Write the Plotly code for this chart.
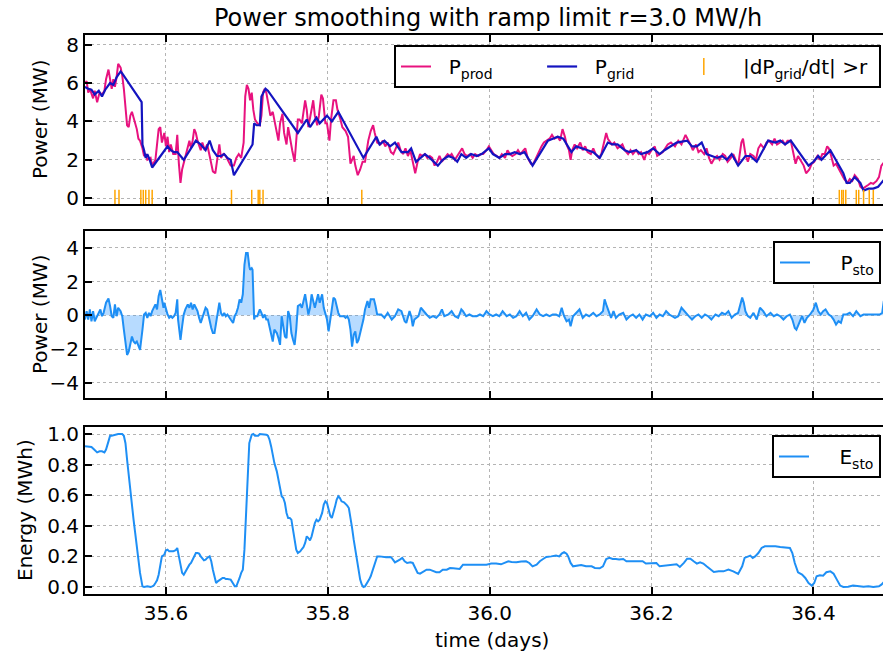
import plotly.graph_objects as go

# ---- production power (MW) ----
t_prod = [35.500,35.502,35.504,35.506,35.510,35.512,35.515,35.518,35.521,35.524,35.526,35.529,35.531,35.533,35.535,35.537,35.539,35.541,35.544,35.546,35.548,35.550,35.552,35.554,35.556,35.558,35.560,35.562,35.564,35.566,35.568,35.571,35.573,35.575,35.577,35.581,35.583,35.587,35.589,35.591,35.593,35.595,35.598,35.600,35.602,35.604,35.606,35.609,35.612,35.614,35.616,35.618,35.620,35.622,35.626,35.629,35.631,35.633,35.635,35.637,35.639,35.643,35.645,35.648,35.651,35.655,35.658,35.661,35.663,35.666,35.668,35.671,35.674,35.677,35.680,35.684,35.687,35.690,35.693,35.696,35.698,35.700,35.702,35.704,35.706,35.708,35.710,35.713,35.716,35.718,35.720,35.722,35.724,35.727,35.729,35.732,35.734,35.737,35.739,35.741,35.744,35.746,35.749,35.751,35.754,35.756,35.759,35.761,35.763,35.765,35.768,35.772,35.774,35.776,35.779,35.782,35.784,35.787,35.789,35.792,35.794,35.797,35.799,35.802,35.804,35.807,35.810,35.812,35.815,35.818,35.822,35.825,35.828,35.830,35.832,35.834,35.837,35.840,35.843,35.846,35.850,35.853,35.856,35.858,35.861,
          35.865,35.868,35.871,35.874,35.878,35.881,35.884,35.887,35.890,35.893,35.896,35.899,35.902,35.905,35.908,35.911,35.914,35.916,35.920,35.923,35.926,35.929,35.932,35.935,35.938,35.941,35.944,35.948,35.951,35.953,35.957,35.960,35.963,35.966,35.969,35.972,35.976,35.979,35.982,35.986,35.989,35.992,35.996,35.999,36.002,36.005,36.009,36.012,36.015,36.019,36.022,36.025,36.028,36.032,36.035,36.038,36.042,36.044,36.047,36.051,36.054,36.057,36.060,36.064,36.067,36.070,36.074,36.077,36.080,36.084,36.087,36.090,36.093,36.095,36.098,36.100,36.102,36.105,36.108,36.112,36.115,36.118,36.121,36.125,36.128,36.131,36.135,36.138,36.141,36.144,36.146,36.149,36.151,36.154,36.158,36.161,36.164,36.167,36.171,36.174,36.177,36.181,36.184,36.187,36.191,36.194,36.197,36.200,36.204,36.207,36.210,36.214,36.217,36.220,36.224,
          36.229,36.233,36.237,36.242,36.245,36.248,36.251,36.255,36.258,36.261,36.265,36.268,36.271,36.274,36.278,36.281,36.284,36.288,36.291,36.294,36.298,36.301,36.304,36.307,36.311,36.313,36.316,36.319,36.322,36.326,36.329,36.332,36.335,36.339,36.342,36.345,36.349,36.352,36.355,36.358,36.362,36.365,36.368,36.372,36.375,36.378,36.381,36.385,36.388,36.391,36.395,36.398,36.401,36.405,36.408,36.411,36.414,36.417,36.419,36.422,36.425,36.428,36.432,36.435,36.438,36.442,36.445,36.448,36.451,36.455,36.458,36.461,36.465,36.468,36.471,36.474,36.478,36.481,36.484,36.488]
p_prod = [6.0,6.1,5.5,5.7,5.2,5.6,5.0,5.5,5.4,5.6,6.2,6.7,6.2,5.7,6.2,5.8,6.3,7.0,6.8,6.4,5.7,4.6,3.8,3.7,4.3,4.5,4.2,3.9,3.6,3.1,3.0,2.6,2.2,2.3,2.0,2.1,1.7,2.0,2.7,3.6,3.7,2.9,3.4,2.7,3.2,2.4,2.8,2.3,2.3,3.3,1.8,0.8,1.5,1.8,2.5,3.0,2.6,3.0,3.6,3.4,3.0,2.5,2.9,2.5,2.8,2.0,1.4,1.3,1.9,2.8,2.1,2.3,2.2,1.9,1.7,1.7,2.1,2.3,2.1,2.9,5.3,5.9,5.7,5.1,5.5,4.6,4.1,3.9,3.8,4.3,5.5,5.7,5.5,4.8,4.3,4.5,4.1,3.4,3.0,3.9,4.4,3.4,2.8,3.7,2.9,2.5,1.9,2.9,4.1,4.1,3.9,5.1,4.6,3.7,4.4,5.1,4.3,3.8,4.3,5.4,5.2,3.9,3.9,3.0,4.1,5.1,5.1,4.6,4.2,3.7,3.5,3.2,1.8,2.0,2.2,1.7,1.2,1.5,1.9,1.9,3.0,3.5,3.8,3.4,2.9,
          2.8,3.0,2.7,2.9,2.4,2.3,2.6,2.9,2.5,2.3,2.6,2.2,2.5,1.9,1.3,1.9,2.3,2.2,2.3,2.1,2.2,2.1,1.7,1.9,2.2,1.9,2.1,2.3,2.2,2.3,2.0,2.2,2.4,2.6,2.3,2.2,2.3,2.1,2.3,2.2,2.3,2.3,2.5,2.7,2.5,2.3,2.2,2.1,2.3,2.1,2.5,2.3,2.2,2.3,2.5,2.3,2.5,2.6,2.1,1.8,1.8,2.1,2.4,2.7,2.9,3.0,3.1,3.3,3.1,3.2,3.0,3.6,3.2,2.8,2.5,2.0,2.5,2.8,2.6,2.9,2.5,2.7,2.4,2.3,2.6,2.3,2.1,2.3,2.9,3.4,3.1,2.9,2.8,2.9,2.6,2.7,2.8,2.5,2.3,2.5,2.3,2.5,2.3,2.4,2.0,2.4,2.3,2.5,2.7,2.2,2.3,2.4,2.6,2.8,2.9,
          2.7,3.0,2.8,3.3,3.0,2.8,2.5,2.8,2.4,2.5,2.3,2.6,2.1,1.8,2.1,2.2,2.0,2.3,2.2,1.9,2.1,2.3,2.0,1.7,2.9,3.1,2.3,1.9,2.3,2.2,2.0,2.6,2.8,2.6,2.9,3.0,2.8,3.1,2.8,2.9,3.0,2.8,3.0,3.0,2.3,1.8,2.2,1.9,1.7,1.3,1.5,1.8,1.9,2.2,2.0,2.3,2.3,2.7,2.6,2.2,1.7,1.8,1.5,1.3,1.0,0.8,1.0,0.9,1.2,1.0,0.6,0.5,0.6,0.7,0.8,0.75,0.9,1.1,1.7,1.9]

# ---- ramp-limited grid power (MW) ----
t_grid = [35.500,35.504,35.508,35.512,35.517,35.521,35.525,35.531,35.535,35.539,35.544,35.546,35.570,35.571,35.573,35.575,35.577,35.580,35.583,35.602,35.606,35.610,35.614,35.622,35.637,35.643,35.649,35.654,35.658,35.663,35.668,35.672,35.676,35.680,35.684,35.707,35.709,35.712,35.716,35.718,35.723,35.726,35.763,35.774,35.778,35.786,35.790,35.799,35.805,35.813,35.844,35.855,35.860,35.864,35.870,35.877,35.883,35.891,35.899,35.903,35.909,35.920,35.926,35.936,35.942,35.949,35.955,35.960,35.965,35.971,35.977,35.984,35.990,35.999,36.004,36.012,36.019,36.025,36.031,36.037,36.043,36.053,36.072,36.078,36.084,36.091,36.101,36.107,36.113,36.121,36.128,36.136,36.146,36.152,36.158,36.167,36.173,36.181,36.187,36.195,36.202,36.210,36.216,36.231,36.244,36.250,36.256,36.262,36.268,36.274,36.281,36.287,36.293,36.299,36.307,36.316,36.322,36.330,36.344,36.353,36.359,36.365,36.372,36.394,36.400,36.406,36.410,36.421,36.437,36.441,36.445,36.451,36.458,36.462,36.468,36.474,36.480,36.484,36.488]
p_grid = [5.8,5.7,5.65,5.4,5.6,5.3,5.65,6.0,5.9,6.3,6.6,6.5,5.0,2.8,2.5,2.1,2.3,2.0,1.6,2.7,2.5,2.4,2.4,2.0,3.0,2.8,2.5,3.0,2.5,2.2,2.2,2.3,2.1,2.0,1.2,2.8,3.9,3.8,3.8,5.3,5.7,5.6,3.4,4.1,3.7,4.2,3.9,4.3,4.0,4.5,2.1,2.9,3.2,2.8,3.0,2.7,2.9,2.4,2.4,2.6,1.9,2.3,2.1,1.7,2.0,2.2,2.1,1.9,2.3,2.1,2.3,2.2,2.3,2.6,2.3,2.1,2.3,2.3,2.4,2.3,2.4,1.7,3.0,3.1,3.2,3.1,2.4,2.7,2.6,2.5,2.4,2.1,2.9,2.8,2.8,2.5,2.4,2.5,2.3,2.4,2.6,2.3,2.5,2.9,3.0,2.7,2.7,2.9,2.3,2.2,2.1,2.2,2.0,2.3,1.7,2.2,2.2,1.9,3.0,2.9,3.0,2.8,3.0,1.7,1.9,2.2,2.0,2.5,1.3,0.8,0.8,1.1,0.8,0.4,0.5,0.5,0.6,0.8,1.0]

# ---- instants where |dPgrid/dt| exceeds the ramp limit ----
t_flag = [35.537,35.542,35.569,35.572,35.575,35.579,35.583,35.681,35.706,35.714,35.716,35.720,35.842,36.432,36.435,36.437,36.440,36.453,36.456,36.462,36.469,36.474]

# ---- storage power (MW) ----
t_sto = [35.500,35.502,35.504,35.506,35.508,35.510,35.512,35.515,35.517,35.519,35.521,35.523,35.526,35.529,35.531,35.533,35.535,35.537,35.539,35.541,35.544,35.546,35.548,35.550,35.552,35.554,35.556,35.558,35.560,35.562,35.564,35.566,35.568,35.571,35.573,35.575,35.577,35.579,35.581,35.583,35.585,35.587,35.589,35.591,35.593,35.595,35.597,35.598,35.600,35.602,35.604,35.606,35.608,35.610,35.612,35.614,35.615,35.617,35.618,35.620,35.622,35.624,35.627,35.629,35.631,35.633,35.635,35.637,35.639,35.641,35.643,35.645,35.647,35.649,35.651,35.654,35.656,35.658,35.660,35.662,35.664,35.666,35.668,35.670,35.672,35.674,35.676,35.678,35.680,35.683,35.685,35.687,35.689,35.691,35.693,35.695,35.697,35.699,35.701,35.703,35.704,35.706,35.707,35.709,35.710,35.713,35.716,35.718,35.720,35.722,35.724,35.726,35.728,35.730,35.732,35.734,35.737,35.739,35.741,35.743,35.745,35.747,35.749,35.751,35.753,35.755,35.757,35.759,35.761,35.763,35.766,35.768,35.770,35.772,35.774,35.776,35.778,35.780,35.782,35.784,35.786,35.788,35.790,35.793,35.795,35.797,35.799,35.801,35.803,35.805,35.807,35.809,35.811,35.813,35.815,35.817,35.820,35.822,35.824,35.826,35.828,35.830,35.832,35.834,35.836,35.838,35.840,35.842,35.844,35.846,35.849,35.851,35.853,35.855,35.857,35.859,35.861,
         35.866,35.870,35.874,35.879,35.883,35.887,35.891,35.895,35.897,35.901,35.903,35.905,35.907,35.912,35.915,35.918,35.922,35.926,35.930,35.934,35.938,35.941,35.944,35.949,35.953,35.957,35.961,35.965,35.967,35.971,35.975,35.979,35.984,35.988,35.992,35.996,36.000,36.004,36.008,36.012,36.016,36.021,36.025,36.029,36.033,36.037,36.041,36.045,36.049,36.053,36.058,36.062,36.066,36.070,36.074,36.078,36.082,36.086,36.089,36.092,36.095,36.098,36.100,36.103,36.107,36.111,36.115,36.119,36.123,36.128,36.132,36.136,36.140,36.142,36.144,36.147,36.150,36.153,36.156,36.160,36.165,36.169,36.173,36.177,36.181,36.185,36.189,36.193,36.198,36.202,36.206,36.210,36.214,36.218,36.222,
         36.229,36.233,36.237,36.242,36.246,36.250,36.254,36.258,36.262,36.266,36.270,36.274,36.279,36.283,36.287,36.291,36.295,36.299,36.303,36.307,36.312,36.314,36.316,36.319,36.322,36.326,36.330,36.334,36.338,36.342,36.347,36.351,36.355,36.359,36.363,36.367,36.371,36.374,36.377,36.379,36.382,36.386,36.389,36.392,36.396,36.400,36.403,36.406,36.409,36.412,36.415,36.419,36.422,36.425,36.428,36.431,36.434,36.437,36.441,36.445,36.449,36.453,36.458,36.462,36.466,36.470,36.474,36.478,36.482,36.485,36.487,36.488]
p_sto = [-0.25,0.25,-0.25,0.35,-0.35,0.25,-0.35,-0.05,0.15,0.35,-0.05,0.15,0.75,1.0,0.55,-0.05,-0.15,0.65,-0.05,0.45,0.25,-0.05,-0.85,-1.65,-2.35,-2.15,-1.65,-1.25,-1.55,-1.65,-1.55,-1.85,-2.05,-0.85,0.05,0.15,-0.15,0.15,-0.05,0.25,0.45,0.65,0.35,1.15,1.5,0.95,0.45,0.75,0.35,0.05,-0.15,-0.05,-0.15,-0.05,0.15,0.95,-0.25,-1.15,-1.45,-0.65,0.05,0.35,0.65,0.45,0.75,0.35,0.65,0.45,0.25,-0.15,-0.45,-0.15,0.15,0.45,0.35,-0.35,-0.75,-1.05,-1.05,-0.45,0.15,0.75,0.15,-0.05,0.15,-0.05,0.05,-0.15,-0.25,-0.45,-0.05,0.15,0.45,0.95,0.75,1.25,3.0,3.7,3.7,2.9,2.7,2.8,2.7,-0.25,-0.05,-0.05,0.35,0.15,-0.15,0.05,-0.25,-0.25,-0.65,-1.05,-1.55,-0.85,-1.05,-1.35,-1.75,-0.05,-0.65,-1.25,-1.35,0.25,-0.05,-1.05,-1.45,-1.75,-0.85,0.55,0.65,0.45,0.85,1.25,0.65,0.05,0.45,1.25,0.85,0.45,0.85,1.25,0.75,1.25,0.45,0.15,-0.25,-0.95,-0.35,0.45,1.05,0.95,0.55,0.15,-0.05,-0.05,-0.05,-0.15,-0.05,-0.25,-0.85,-1.85,-1.15,-0.95,-1.65,-1.45,-0.95,-0.65,-0.25,0.35,0.85,0.45,0.95,0.95,0.95,0.55,0.05,
         0.05,-0.15,0.15,-0.25,-0.05,0.35,0.25,-0.35,-0.45,0.25,-0.05,-0.65,-0.25,-0.05,0.45,0.25,0.05,-0.15,-0.05,-0.15,0.05,0.35,-0.05,0.05,0.25,-0.05,-0.15,0.35,0.25,-0.05,0.05,-0.05,-0.05,0.05,-0.05,0.25,0.05,-0.05,0.05,-0.05,0.25,-0.05,0.05,-0.15,-0.05,0.25,-0.05,0.15,-0.25,-0.05,0.35,0.05,-0.05,0.05,-0.05,0.05,0.05,-0.05,0.45,-0.05,-0.35,-0.25,-0.65,-0.05,0.15,0.35,-0.15,0.05,-0.05,0.15,-0.05,0.05,0.25,0.95,0.65,0.25,-0.15,0.25,-0.15,0.05,0.15,-0.25,-0.05,0.05,-0.15,0.05,-0.25,0.05,-0.05,0.15,-0.15,0.05,-0.05,0.25,0.05,
         -0.15,-0.05,0.45,0.15,-0.05,-0.25,-0.05,0.05,-0.15,0.05,-0.05,-0.25,0.05,-0.05,0.15,0.05,0.25,-0.15,0.05,0.15,1.05,0.75,0.25,-0.05,-0.15,0.15,-0.25,0.45,0.25,-0.05,0.15,-0.05,0.05,-0.05,-0.25,-0.05,0.05,-0.25,-0.75,-0.85,-0.55,-0.05,-0.45,-0.15,0.05,0.35,0.75,0.25,0.05,0.25,0.35,0.05,-0.05,-0.25,-0.55,-0.35,-0.45,0.05,0.05,0.15,-0.05,0.25,-0.05,0.05,0.05,0.05,0.05,0.05,0.05,0.15,0.85,0.5]

# ---- stored energy (MWh) ----
t_e = [35.500,35.504,35.508,35.511,35.515,35.518,35.521,35.524,35.526,35.529,35.531,35.533,35.535,35.537,35.539,35.541,35.544,35.546,35.548,35.550,35.552,35.554,35.556,35.558,35.560,35.562,35.564,35.566,35.568,35.571,35.573,35.577,35.581,35.583,35.585,35.587,35.589,35.591,35.593,35.595,35.598,35.600,35.602,35.604,35.606,35.609,35.612,35.614,35.616,35.618,35.620,35.622,35.624,35.627,35.629,35.631,35.633,35.635,35.637,35.639,35.641,35.643,35.645,35.647,35.649,35.651,35.654,35.656,35.658,35.660,35.662,35.664,35.666,35.668,35.670,35.672,35.674,35.676,35.678,35.680,35.683,35.685,35.687,35.689,35.691,35.693,35.695,35.697,35.699,35.701,35.703,35.706,35.708,35.710,35.712,35.714,35.716,35.718,35.722,35.724,35.726,35.728,35.730,35.732,35.734,35.737,35.739,35.741,35.743,35.745,35.747,35.749,35.751,35.753,35.755,35.757,35.759,35.761,35.763,35.766,35.768,35.770,35.772,35.774,35.776,35.778,35.780,35.782,35.784,35.786,35.788,35.790,35.793,35.795,35.797,35.799,35.801,35.803,35.805,35.807,35.809,35.811,35.813,35.815,35.817,35.820,35.822,35.824,35.826,35.828,35.830,35.832,35.834,35.836,35.838,35.840,35.842,35.844,35.846,35.849,35.851,35.853,35.855,35.857,35.859,35.861,
       35.864,35.868,35.872,35.877,35.879,35.883,35.886,35.889,35.892,35.895,35.898,35.902,35.905,35.908,35.911,35.914,35.918,35.922,35.926,35.930,35.934,35.938,35.942,35.947,35.951,35.955,35.959,35.963,35.967,35.971,35.977,35.984,35.990,35.996,36.002,36.008,36.014,36.019,36.023,36.027,36.033,36.039,36.045,36.049,36.053,36.058,36.062,36.066,36.070,36.076,36.082,36.086,36.089,36.092,36.095,36.097,36.100,36.103,36.107,36.113,36.119,36.126,36.130,36.136,36.140,36.144,36.148,36.152,36.156,36.160,36.165,36.169,36.175,36.183,36.189,36.193,36.200,36.206,36.210,36.216,
       36.225,36.231,36.235,36.240,36.244,36.248,36.252,36.256,36.260,36.264,36.268,36.272,36.277,36.283,36.289,36.295,36.301,36.307,36.312,36.315,36.319,36.322,36.325,36.328,36.332,36.336,36.340,36.347,36.353,36.359,36.365,36.371,36.374,36.377,36.381,36.386,36.390,36.394,36.398,36.401,36.404,36.408,36.412,36.416,36.421,36.425,36.429,36.433,36.437,36.443,36.449,36.456,36.462,36.468,36.474,36.481,36.484,36.488]
e_sto = [0.92,0.915,0.915,0.90,0.88,0.887,0.887,0.88,0.898,0.952,0.989,0.989,0.993,0.995,1.0,1.0,1.0,1.0,0.989,0.94,0.832,0.723,0.614,0.516,0.44,0.353,0.266,0.179,0.092,0.004,0.0,0.004,0.0,0.004,0.009,0.026,0.044,0.08,0.157,0.2,0.211,0.24,0.244,0.233,0.233,0.233,0.24,0.255,0.2,0.135,0.092,0.08,0.1,0.135,0.146,0.157,0.179,0.2,0.222,0.222,0.218,0.2,0.183,0.174,0.178,0.19,0.2,0.168,0.113,0.059,0.026,0.037,0.044,0.048,0.059,0.059,0.052,0.052,0.048,0.048,0.022,0.004,0.004,0.026,0.059,0.092,0.113,0.244,0.505,0.745,0.941,0.996,1.0,0.989,0.989,0.989,1.0,1.0,1.0,0.996,0.989,0.963,0.919,0.854,0.81,0.756,0.701,0.636,0.593,0.582,0.549,0.484,0.451,0.451,0.44,0.375,0.309,0.244,0.222,0.233,0.248,0.261,0.288,0.331,0.32,0.305,0.331,0.375,0.418,0.44,0.429,0.44,0.484,0.538,0.56,0.549,0.505,0.466,0.451,0.484,0.527,0.571,0.593,0.582,0.56,0.553,0.545,0.532,0.516,0.462,0.386,0.309,0.244,0.179,0.113,0.048,0.015,0.0,0.004,0.026,0.048,0.07,0.102,0.135,0.179,0.2,
       0.2,0.196,0.194,0.196,0.19,0.161,0.168,0.179,0.19,0.168,0.157,0.161,0.157,0.124,0.092,0.087,0.102,0.113,0.113,0.107,0.096,0.096,0.113,0.113,0.124,0.122,0.118,0.118,0.146,0.146,0.142,0.144,0.142,0.146,0.153,0.153,0.148,0.161,0.168,0.163,0.161,0.166,0.168,0.157,0.135,0.146,0.168,0.183,0.196,0.2,0.205,0.2,0.218,0.227,0.218,0.2,0.157,0.135,0.139,0.144,0.135,0.135,0.124,0.122,0.135,0.183,0.19,0.183,0.183,0.179,0.183,0.168,0.168,0.166,0.168,0.153,0.157,0.157,0.135,0.139,
       0.144,0.148,0.131,0.157,0.185,0.185,0.168,0.153,0.161,0.153,0.135,0.118,0.098,0.102,0.102,0.113,0.102,0.085,0.135,0.19,0.196,0.205,0.19,0.2,0.222,0.255,0.266,0.266,0.266,0.261,0.259,0.255,0.222,0.157,0.096,0.081,0.059,0.026,0.009,0.026,0.07,0.076,0.074,0.096,0.102,0.087,0.048,0.009,0.0,0.002,0.009,0.004,0.002,0.004,0.0,0.004,0.015,0.037]

C_PROD = "#e8127f"
C_GRID = "#1414c0"
C_STO = "#1e8ff5"
C_FLAG = "#ffa500"
FONT = "DejaVu Sans"

NB = "\u00a0"  # non-breaking space used to pad legend entries


def entry(label, lead, trail=0):
    return NB * lead + label + NB * trail


fig = go.Figure()

fig.add_trace(go.Scatter(x=t_prod, y=p_prod, mode="lines", name=entry("P<sub>prod</sub>", 2, 7),
                         line=dict(color=C_PROD, width=2), xaxis="x", yaxis="y", legend="legend"))
fig.add_trace(go.Scatter(x=t_grid, y=p_grid, mode="lines", name=entry("P<sub>grid</sub>", 2, 7),
                         line=dict(color=C_GRID, width=2.2), xaxis="x", yaxis="y", legend="legend"))
fig.add_trace(go.Scatter(x=t_flag, y=[0] * len(t_flag), mode="markers",
                         name=entry("|dP<sub>grid</sub>/dt| >r", 3, 1),
                         marker=dict(symbol="line-ns", size=12, color=C_FLAG, line=dict(width=1.5, color=C_FLAG)),
                         xaxis="x", yaxis="y", legend="legend"))

# shaded area between storage power and zero
fig.add_trace(go.Scatter(x=t_sto, y=p_sto, mode="none", fill="tozeroy",
                         fillcolor="rgba(30,144,255,0.32)", showlegend=False,
                         xaxis="x2", yaxis="y2", hoverinfo="skip"))
fig.add_trace(go.Scatter(x=t_sto, y=p_sto, mode="lines", name=entry("P<sub>sto</sub>", 4),
                         line=dict(color=C_STO, width=2), xaxis="x2", yaxis="y2", legend="legend2"))

fig.add_trace(go.Scatter(x=t_e, y=e_sto, mode="lines", name=entry("E<sub>sto</sub>", 4),
                         line=dict(color=C_STO, width=2), xaxis="x3", yaxis="y3", legend="legend3"))

H = 662.0


def ydom(top_px, bot_px):
    return [1 - bot_px / H, 1 - top_px / H]


xcommon = dict(range=[35.5, 36.486], tick0=35.6, dtick=0.2, tickformat=".1f",
               showgrid=True, gridcolor="#b4b4b4", griddash="dot", gridwidth=1,
               showline=True, linecolor="black", linewidth=2, mirror="ticks",
               ticks="inside", ticklen=7, tickwidth=1.5, tickcolor="black",
               zeroline=False, automargin=False,
               tickfont=dict(family=FONT, size=20, color="black"))
ycommon = dict(showgrid=True, gridcolor="#b4b4b4", griddash="dot", gridwidth=1,
               showline=True, linecolor="black", linewidth=2, mirror=False,
               ticks="inside", ticklen=7, tickwidth=1.5, tickcolor="black",
               zeroline=False, automargin=False,
               tickfont=dict(family=FONT, size=20, color="black"))

legend_common = dict(bgcolor="white", bordercolor="black", borderwidth=2,
                     font=dict(family=FONT, size=20, color="black"),
                     xanchor="right", yanchor="top", orientation="h")

fig.update_layout(
    width=883, height=662,
    margin=dict(l=85, r=0, t=0, b=0),
    paper_bgcolor="white", plot_bgcolor="white",
    font=dict(family=FONT, size=20, color="black"),
    xaxis=dict(xcommon, domain=[0, 1], anchor="y", showticklabels=False),
    yaxis=dict(ycommon, domain=ydom(35, 204), anchor="x", range=[-0.3, 8.5], dtick=2, tick0=0),
    xaxis2=dict(xcommon, domain=[0, 1], anchor="y2", matches="x", showticklabels=False),
    yaxis2=dict(ycommon, domain=ydom(231, 398), anchor="x2", range=[-4.9, 5.0], dtick=2, tick0=0),
    xaxis3=dict(xcommon, domain=[0, 1], anchor="y3", matches="x"),
    yaxis3=dict(ycommon, domain=ydom(427, 594), anchor="x3", range=[-0.046, 1.046],
                dtick=0.2, tick0=0, tickformat=".1f"),
    legend=dict(legend_common, x=0.9975, y=1 - 45 / H),
    legend2=dict(legend_common, x=0.9975, y=1 - 241 / H),
    legend3=dict(legend_common, x=0.9975, y=1 - 435 / H),
    showlegend=True,
)

annotations = [
    dict(text="Power smoothing with ramp limit r=3.0 MW/h", x=0.505, y=1 - 18 / H,
         font=dict(family=FONT, size=24, color="black")),
    dict(text="Power (MW)", x=-45 / 798, y=1 - 120 / H, textangle=-90,
         font=dict(family=FONT, size=20, color="black")),
    dict(text="Power (MW)", x=-45 / 798, y=1 - 315 / H, textangle=-90,
         font=dict(family=FONT, size=20, color="black")),
    dict(text="Energy (MWh)", x=-60 / 798, y=1 - 510 / H, textangle=-90,
         font=dict(family=FONT, size=20, color="black")),
    dict(text="time (days)", x=0.51, y=1 - 640 / H,
         font=dict(family=FONT, size=20, color="black")),
]
for a in annotations:
    a.update(xref="paper", yref="paper", showarrow=False, xanchor="center", yanchor="middle")
fig.update_layout(annotations=annotations)

fig.write_html("out.html")
